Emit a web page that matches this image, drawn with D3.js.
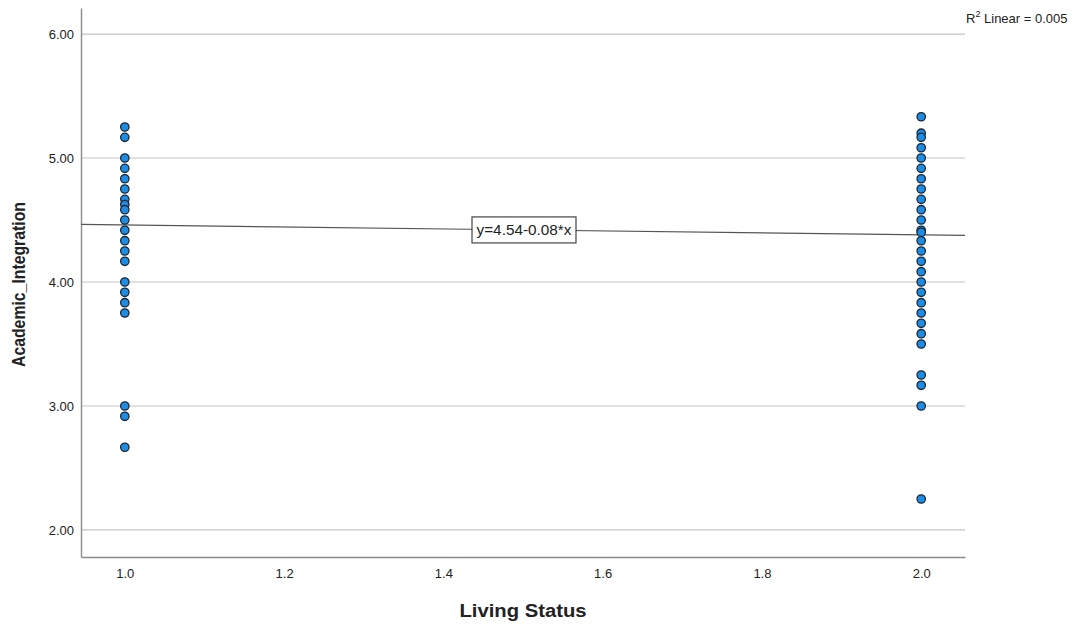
<!DOCTYPE html>
<html>
<head>
<meta charset="utf-8">
<script src="https://cdn.jsdelivr.net/npm/d3@7"></script>
<style>
  body { margin: 0; background: #fff; }
  text { font-family: "Liberation Sans", Arial, sans-serif; fill: #222; }
</style>
</head>
<body>
<div id="chart"></div>
<script>
// Living Status = 1.0
const group1 = [5.25, 5.167, 5.0, 4.917, 4.833, 4.75, 4.667, 4.625, 4.583, 4.5, 4.417,
  4.333, 4.25, 4.167, 4.0, 3.917, 3.833, 3.75, 3.0, 2.917, 2.667];
// Living Status = 2.0
const group2 = [5.333, 5.2, 5.167, 5.083, 5.0, 4.917, 4.833, 4.75, 4.667, 4.583, 4.5,
  4.417, 4.4, 4.333, 4.25, 4.167, 4.083, 4.0, 3.917, 3.833, 3.75, 3.667, 3.583, 3.5,
  3.25, 3.167, 3.0, 2.25];
const yTicks = [2, 3, 4, 5, 6];
const xTicks = [1.0, 1.2, 1.4, 1.6, 1.8, 2.0];
const intercept = 4.54;
const slope = -0.08;
const r2 = 0.005;

const width = 1078, height = 626;
const margin = { left: 81, right: 113, top: 8, bottom: 69 };

var svg = d3.select("#chart").append("svg")
  .attr("width", width).attr("height", height);

var x = d3.scaleLinear().domain([0.945, 2.055]).range([margin.left, width - margin.right]);
var y = d3.scaleLinear().domain([1.782, 6.21]).range([height - margin.bottom, margin.top]);

// gridlines
svg.append("g")
  .selectAll("line")
  .data(yTicks)
  .enter()
  .append("line")
  .attr("x1", x.range()[0]).attr("x2", x.range()[1])
  .attr("y1", d => y(d)).attr("y2", d => y(d))
  .attr("stroke", "#c4c4c4").attr("stroke-width", 1.2);

// axes
var yAxis = svg.append("g")
  .attr("transform", `translate(${margin.left},0)`)
  .call(d3.axisLeft(y).tickValues(yTicks).tickSize(0).tickPadding(7).tickFormat(d3.format(".2f")));
var xAxis = svg.append("g")
  .attr("transform", `translate(0,${height - margin.bottom})`)
  .call(d3.axisBottom(x).tickValues(xTicks).tickSize(0).tickPadding(12).tickFormat(d3.format(".1f")));

[yAxis, xAxis].forEach(function (a) {
  a.select(".domain").attr("stroke", "#8a8a8a").attr("stroke-width", 1.4);
  a.selectAll("text").style("font-size", "13px").attr("fill", "#222");
});

// fit line
svg.append("line")
  .attr("x1", x(x.domain()[0])).attr("y1", y(intercept + slope * x.domain()[0]))
  .attr("x2", x(x.domain()[1])).attr("y2", y(intercept + slope * x.domain()[1]))
  .attr("stroke", "#555").attr("stroke-width", 1.2);

// points
var points = group1.map(v => ({ x: 1, y: v })).concat(group2.map(v => ({ x: 2, y: v })));
svg.append("g")
  .selectAll("circle")
  .data(points)
  .enter()
  .append("circle")
  .attr("cx", d => x(d.x))
  .attr("cy", d => y(d.y))
  .attr("r", 4.2)
  .attr("fill", "#1b8de6")
  .attr("stroke", "#1c2733")
  .attr("stroke-width", 1.3);

// equation label
var lx = x(1.5), ly = y(intercept + slope * 1.5);
var label = svg.append("g").attr("transform", `translate(${lx},${ly})`);
label.append("rect")
  .attr("x", -51).attr("y", -13).attr("width", 104).attr("height", 26)
  .attr("fill", "#fff").attr("stroke", "#444").attr("stroke-width", 1.2);
label.append("text")
  .attr("text-anchor", "middle").attr("dy", "0.35em").attr("x", 1)
  .style("font-size", "14px")
  .attr("textLength", 95).attr("lengthAdjust", "spacingAndGlyphs")
  .text("y=" + intercept.toFixed(2) + (slope < 0 ? "-" : "+") + Math.abs(slope).toFixed(2) + "*x");

// R squared
var rt = svg.append("text").attr("x", 966).attr("y", 23).style("font-size", "13px");
rt.append("tspan").text("R");
rt.append("tspan").attr("dy", -6).style("font-size", "9px").text("2");
rt.append("tspan").attr("dy", 6).text(" Linear = " + r2.toFixed(3));

// axis titles
svg.append("text")
  .attr("transform", `translate(25,${(margin.top + height - margin.bottom) / 2 + 2}) rotate(-90)`)
  .attr("text-anchor", "middle")
  .style("font-size", "18px").style("font-weight", "bold")
  .attr("textLength", 165).attr("lengthAdjust", "spacingAndGlyphs")
  .text("Academic_Integration");
svg.append("text")
  .attr("x", (x.range()[0] + x.range()[1]) / 2).attr("y", 617)
  .attr("text-anchor", "middle")
  .style("font-size", "18px").style("font-weight", "bold")
  .attr("textLength", 127).attr("lengthAdjust", "spacingAndGlyphs")
  .text("Living Status");
</script>
</body>
</html>
